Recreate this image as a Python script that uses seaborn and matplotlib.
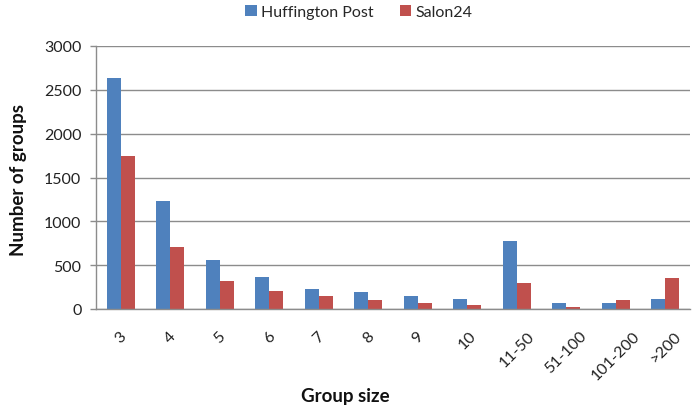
import matplotlib
matplotlib.use("Agg")
import matplotlib.pyplot as plt
import seaborn as sns
import pandas as pd
import numpy as np

categories = ["3", "4", "5", "6", "7", "8", "9", "10", "11-50", "51-100", "101-200", ">200"]
huffington = [2640, 1230, 562, 368, 231, 193, 147, 115, 777, 66, 66, 115]
salon24 = [1741, 704, 323, 209, 147, 100, 66, 50, 292, 20, 100, 354]
series_names = ["Huffington Post", "Salon24"]
colors = ["#4F81BD", "#C0504D"]

df = pd.DataFrame({
    "Group size": categories * 2,
    "value": huffington + salon24,
    "series": [series_names[0]] * len(categories) + [series_names[1]] * len(categories),
})

sns.set_style("white")
plt.rcParams["font.family"] = ["Lato", "DejaVu Sans"]

fig = plt.figure(figsize=(6.94, 4.14), dpi=100)
ax = fig.add_axes([96 / 694, 1 - 310 / 414, (690 - 96) / 694, (310 - 47) / 414])

sns.barplot(data=df, x="Group size", y="value", hue="series", palette=colors,
            width=0.57, ax=ax, saturation=1, edgecolor="none", legend=True)

ax.set_ylim(0, 3000)
ax.set_xlim(-0.5, len(categories) - 0.5)
ax.set_yticks(np.arange(0, 3001, 500))
ax.set_yticklabels([str(v) for v in range(0, 3001, 500)], fontsize=11.5, color="#222222")
ax.yaxis.grid(True, color="#8C8C8C", linewidth=1)
ax.set_axisbelow(True)

ax.set_xticks(range(len(categories)))
ax.set_xticklabels(categories, fontsize=11.5, color="#222222", rotation=45,
                   ha="center", va="top")
ax.tick_params(axis="x", which="major", length=0, pad=14)
ax.set_xticks(np.arange(-0.5, len(categories), 1), minor=True)
ax.tick_params(axis="x", which="minor", length=4.5, color="#8C8C8C", width=1)
ax.tick_params(axis="y", which="major", length=4.5, color="#8C8C8C", width=1, left=True, pad=6)

for s in ["top", "right"]:
    ax.spines[s].set_visible(False)
for s in ["left", "bottom"]:
    ax.spines[s].set_color("#8C8C8C")
    ax.spines[s].set_linewidth(1)

ax.set_xlabel("Group size", fontsize=13.5, fontweight="bold", color="#111111")
ax.xaxis.set_label_coords((345 - 96) / 594, -(405 - 310) / 263)
ax.xaxis.label.set_va("bottom")
ax.set_ylabel("Number of groups", fontsize=13.5, fontweight="bold", color="#111111")
ax.yaxis.set_label_coords((27 - 96) / 594, 0.494)

ax.get_legend().remove()
handles, labels = ax.get_legend_handles_labels()
fig.legend(handles, labels, loc="center", bbox_to_anchor=(359 / 694, 1 - 13 / 414), ncol=2,
           frameon=False, fontsize=11.5, handlelength=0.7, handleheight=0.7,
           handletextpad=0.3, columnspacing=1.6, borderaxespad=0)

fig.savefig("out.png", dpi=100)
